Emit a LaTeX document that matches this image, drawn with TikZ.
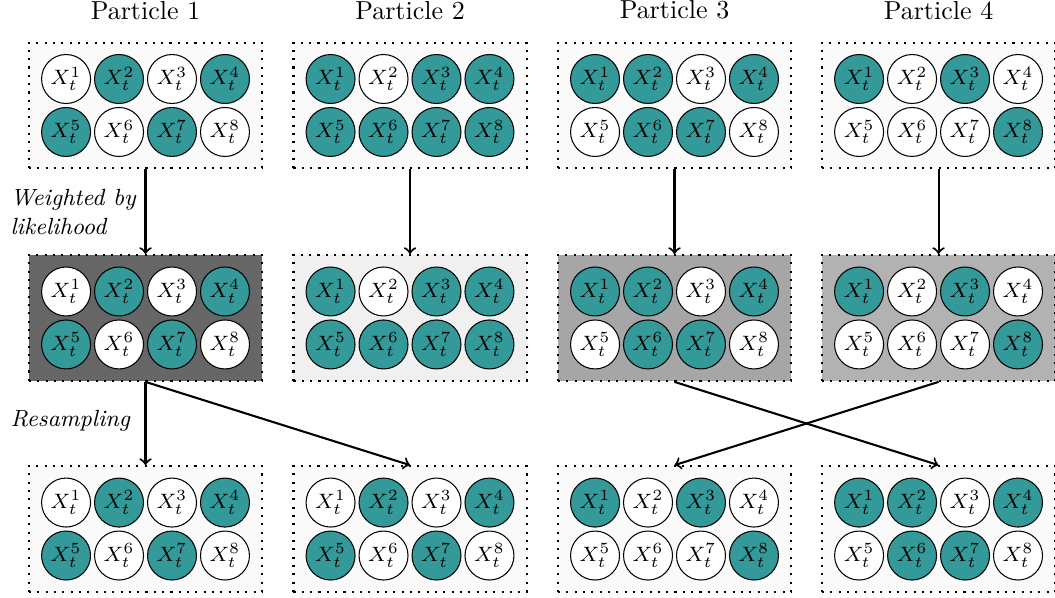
\documentclass[tikz,border=0pt]{standalone}
\usepackage{amsmath}
\usepackage{xcolor}
\usepackage{tikz}
\usetikzlibrary{positioning,arrows}

\colorlet{tealfull}{teal!80}
\tikzset{
  box/.style={draw, thick, dash pattern=on 0.8pt off 2.4pt, rectangle,
              minimum width=3.15cm, minimum height=1.70cm},
  ball/.style={draw, circle, fill=#1, minimum size=0.662cm, inner sep=0pt, font=\footnotesize},
  flow/.style={->, thick}
}

% which balls are full, per particle
\newcommand{\pone}{1/white,2/tealfull,3/white,4/tealfull,5/tealfull,6/white,7/tealfull,8/white}
\newcommand{\ptwo}{1/tealfull,2/white,3/tealfull,4/tealfull,5/tealfull,6/tealfull,7/tealfull,8/tealfull}
\newcommand{\pthree}{1/tealfull,2/tealfull,3/white,4/tealfull,5/white,6/tealfull,7/tealfull,8/white}
\newcommand{\pfour}{1/tealfull,2/white,3/tealfull,4/white,5/white,6/white,7/white,8/tealfull}

\newcommand{\particle}[4]{% name, position, shade, pattern
  \node[box, fill=#3] (#1) at (#2) {};
  \foreach \k/\col [evaluate=\k as \px using {mod(\k-1,4)*0.716-1.074},
                    evaluate=\k as \py using {0.358-int((\k-1)/4)*0.716}] in #4
    \node[ball=\col] (#1-\k) at ([shift={(\px,\py)}]#1.center) {$X_t^{\k}$};
}

\begin{document}
\begin{tikzpicture}
    \useasboundingbox (0,0) rectangle (14.26,-8.083);
    % particles
    \particle{t1}{1.967,-1.426}{black!2}{\pone}
    \particle{t2}{5.542,-1.426}{black!2}{\ptwo}
    \particle{t3}{9.117,-1.426}{black!2}{\pthree}
    \particle{t4}{12.686,-1.426}{black!2}{\pfour}
    % weighted
    \particle{w1}{1.967,-4.298}{black!60}{\pone}
    \particle{w2}{5.542,-4.298}{black!6}{\ptwo}
    \particle{w3}{9.117,-4.298}{black!35}{\pthree}
    \particle{w4}{12.686,-4.298}{black!30}{\pfour}
    % resampled
    \particle{r1}{1.967,-7.151}{black!2}{\pone}
    \particle{r2}{5.542,-7.151}{black!2}{\pone}
    \particle{r3}{9.117,-7.151}{black!2}{\pfour}
    \particle{r4}{12.686,-7.151}{black!2}{\pthree}

    \node[above=0.175cm of t1] (title1) {Particle 1};
    \node[above=0.175cm of t2] (title2) {Particle 2};
    \node[above=0.175cm of t3] (title3) {Particle 3};
    \node[above=0.175cm of t4] (title4) {Particle 4};

    \foreach \i in {1,...,4}
        \draw[flow] (t\i) -- (w\i);
    \draw[flow] (w1.south) -- (r1.north);
    \draw[flow] (w1.south) -- (r2.north);
    \draw[flow] (w3.south) -- (r4.north);
    \draw[flow] (w4.south) -- (r3.north);

    \node[anchor=west, inner sep=0pt, align=left, font=\small\itshape] (weightlabel)
        at (0.135,-2.866) {Weighted by\\likelihood};
    \node[anchor=west, inner sep=0pt, font=\small\itshape] (resamplelabel)
        at (0.135,-5.691) {Resampling};
\end{tikzpicture}
\end{document}
